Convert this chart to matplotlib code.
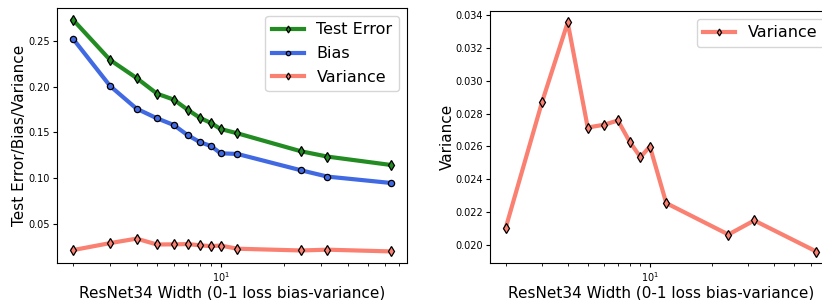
import matplotlib
matplotlib.use("Agg")
import matplotlib.pyplot as plt

widths = [2, 3, 4, 5, 6, 7, 8, 9, 10, 12, 24, 32, 64]
test_error = [0.2734, 0.2292, 0.2095, 0.1923, 0.1858, 0.1745, 0.1657,
              0.1602, 0.1536, 0.1489, 0.1292, 0.1234, 0.1142]
bias = [0.2526, 0.2007, 0.1759, 0.1653, 0.1580, 0.1467, 0.1391,
        0.1350, 0.1270, 0.1263, 0.1084, 0.1015, 0.0945]
variance = [0.02098, 0.02868, 0.03357, 0.02715, 0.02732, 0.02758, 0.02626,
            0.02534, 0.02599, 0.02253, 0.02061, 0.02147, 0.01957]

xlabel = 'ResNet34 Width (0-1 loss bias-variance)'

fig = plt.figure(figsize=(8.22, 3.0), dpi=100)
ax1 = fig.add_axes([0.0693, 0.1233, 0.4258, 0.85])
ax2 = fig.add_axes([0.5961, 0.1233, 0.416, 0.84])

style = dict(lw=3, ms=5, mec='black', mew=0.9)
ax1.plot(widths, test_error, marker='d', color='forestgreen', label='Test Error', **style)
ax1.plot(widths, bias, marker='o', color='royalblue', label='Bias', **dict(style, ms=4.5))
ax1.plot(widths, variance, marker='d', color='salmon', label='Variance', **style)
ax1.set_xscale('log')
ax1.set_ylabel('Test Error/Bias/Variance', fontsize=11, labelpad=1)
ax1.legend(fontsize=11.5, loc='upper right', markerscale=0.7, labelspacing=0.55)

ax2.plot(widths, variance, marker='d', color='salmon', label='Variance', **style)
ax2.set_xscale('log')
ax2.set_ylabel('Variance', fontsize=11, labelpad=0)
ax2.legend(fontsize=11.5, loc='upper right', markerscale=0.7)

for ax in (ax1, ax2):
    ax.set_xlabel(xlabel, fontsize=11, labelpad=1)
    ax.tick_params(labelsize=7, length=3, pad=2)
    ax.tick_params(which='minor', length=2)

fig.savefig('out.png', dpi=100)
